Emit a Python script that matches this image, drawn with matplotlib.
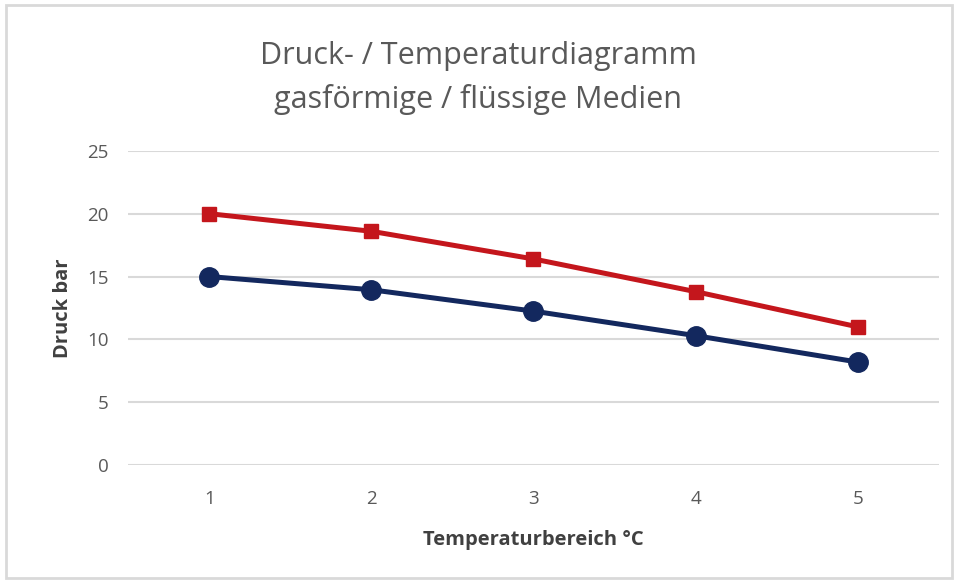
import matplotlib.pyplot as plt
from matplotlib.patches import Rectangle

plt.rcParams['font.family'] = ['Open Sans', 'DejaVu Sans']

temp = [1, 2, 3, 4, 5]
druck_gas = [20.0, 18.6, 16.4, 13.8, 11.0]
druck_fluessig = [15.0, 13.95, 12.25, 10.3, 8.2]
y_ticks = [0, 5, 10, 15, 20, 25]

fig = plt.figure(figsize=(9.56, 5.8), dpi=100)
ax = fig.add_axes([0.134, 0.198, 0.848, 0.542])

# Rahmen um das ganze Diagramm
fig.patches.append(Rectangle((0.006, 0.004), 0.99, 0.988, transform=fig.transFigure,
                             fill=False, edgecolor='#d9d9d9', linewidth=2))

ax.plot(temp, druck_gas, color='#C4161C', linewidth=3.6, marker='s', markersize=10, zorder=3)
ax.plot(temp, druck_fluessig, color='#13285E', linewidth=3.6, marker='o', markersize=14, zorder=3)

ax.set_xlim(0.5, 5.5)
ax.set_ylim(0, 25)
ax.set_yticks(y_ticks)
ax.set_xticks(temp)
ax.grid(axis='y', color='#d9d9d9', linewidth=1.5)
ax.set_axisbelow(True)
for s in ax.spines.values():
    s.set_visible(False)
ax.tick_params(length=0, labelsize=13.5, colors='#595959', pad=14)
ax.tick_params(axis='x', pad=18)

ax.set_ylabel('Druck bar', fontsize=14.5, fontweight='bold', color='#404040', labelpad=10)
ax.set_xlabel('Temperaturbereich °C', fontsize=14.5, fontweight='bold', color='#404040', labelpad=16)

fig.text(0.5, 0.865, 'Druck- / Temperaturdiagramm\ngasförmige / flüssige Medien',
         ha='center', va='center', fontsize=22, color='#595959', linespacing=1.55)

plt.savefig('out.png')
